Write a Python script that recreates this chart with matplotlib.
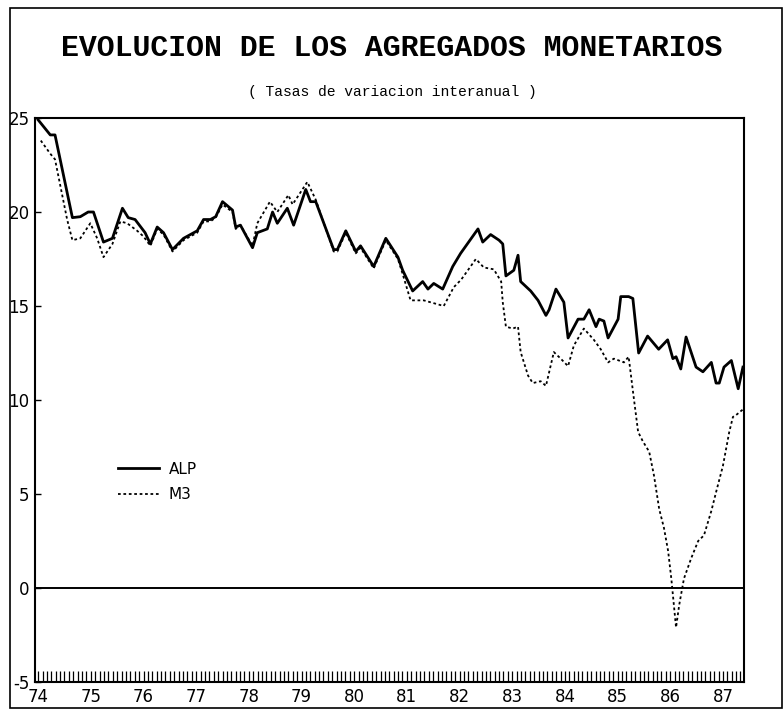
import numpy as np
import matplotlib
matplotlib.use('Agg')
import matplotlib.pyplot as plt
from matplotlib.patches import Rectangle

# fechas en años decimales (74.0 = enero 1974), valores en %
alp_t = [74.00, 74.23, 74.32, 74.65, 74.80, 74.95, 75.05, 75.24, 75.41, 75.60,
         75.71, 75.84, 76.03, 76.13, 76.26, 76.38, 76.55, 76.76, 77.02, 77.14,
         77.27, 77.37, 77.50, 77.69, 77.75, 77.84, 78.07, 78.16, 78.35, 78.45,
         78.54, 78.73, 78.85, 79.08, 79.17, 79.27, 79.61, 79.68, 79.84, 80.03,
         80.12, 80.37, 80.60, 80.83, 80.92, 81.11, 81.30, 81.40, 81.51, 81.68,
         81.87, 82.02, 82.35, 82.44, 82.59, 82.75, 82.82, 82.88, 83.03, 83.11,
         83.16, 83.35, 83.49, 83.64, 83.70, 83.83, 83.98, 84.06, 84.25, 84.36,
         84.46, 84.59, 84.65, 84.74, 84.82, 85.01, 85.06, 85.21, 85.29, 85.40,
         85.57, 85.78, 85.95, 86.05, 86.11, 86.20, 86.30, 86.49, 86.62, 86.78,
         86.87, 86.93, 87.02, 87.16, 87.29, 87.38]
alp = [24.9, 24.1, 24.1, 19.7, 19.75, 20.0, 20.0, 18.4, 18.6, 20.2,
       19.7, 19.6, 18.9, 18.3, 19.2, 18.9, 18.0, 18.6, 19.0, 19.6,
       19.6, 19.75, 20.55, 20.1, 19.2, 19.3, 18.1, 18.9, 19.1, 20.0,
       19.4, 20.2, 19.3, 21.2, 20.55, 20.55, 18.0, 18.0, 19.0, 17.9,
       18.2, 17.1, 18.6, 17.6, 16.9, 15.8, 16.3, 15.9, 16.2, 15.9,
       17.1, 17.8, 19.1, 18.4, 18.8, 18.5, 18.3, 16.6, 16.9, 17.7,
       16.3, 15.8, 15.3, 14.5, 14.8, 15.9, 15.2, 13.3, 14.3, 14.3,
       14.8, 13.9, 14.3, 14.2, 13.3, 14.3, 15.5, 15.5, 15.4, 12.5,
       13.4, 12.7, 13.2, 12.2, 12.3, 11.65, 13.35, 11.75, 11.5, 12.0,
       10.9, 10.9, 11.75, 12.1, 10.6, 11.75]

m3_t = [74.05, 74.23, 74.32, 74.55, 74.65, 74.80, 74.99, 75.12, 75.24, 75.41,
        75.56, 75.69, 75.88, 76.00, 76.13, 76.26, 76.38, 76.55, 76.76, 77.02,
        77.14, 77.27, 77.37, 77.50, 77.69, 77.75, 77.84, 78.07, 78.16, 78.40,
        78.54, 78.75, 78.83, 79.11, 79.27, 79.61, 79.68, 79.84, 80.03, 80.12,
        80.37, 80.60, 80.83, 80.92, 81.07, 81.32, 81.70, 81.89, 82.03, 82.31,
        82.46, 82.65, 82.79, 82.82, 82.88, 83.01, 83.11, 83.16, 83.30, 83.39,
        83.54, 83.64, 83.79, 83.92, 84.06, 84.17, 84.36, 84.55, 84.68, 84.82,
        84.93, 85.12, 85.21, 85.29, 85.39, 85.48, 85.60, 85.69, 85.79, 85.88,
        85.96, 86.02, 86.11, 86.17, 86.26, 86.40, 86.53, 86.64, 86.78, 86.87,
        87.00, 87.12, 87.19, 87.25, 87.38]
m3 = [23.8, 23.1, 22.8, 19.6, 18.5, 18.6, 19.4, 18.6, 17.6, 18.3,
      19.5, 19.4, 19.0, 18.7, 18.2, 19.1, 18.8, 17.9, 18.5, 18.9,
      19.5, 19.5, 19.7, 20.4, 20.0, 19.1, 19.3, 18.2, 19.4, 20.55,
      20.0, 20.9, 20.4, 21.6, 20.65, 17.9, 17.9, 18.9, 17.8, 18.1,
      17.0, 18.5, 17.5, 16.7, 15.3, 15.3, 15.0, 16.0, 16.4, 17.5,
      17.05, 16.95, 16.3, 15.2, 13.9, 13.8, 13.9, 12.55, 11.3, 10.9,
      11.0, 10.75, 12.55, 12.2, 11.8, 12.9, 13.8, 13.2, 12.7, 12.0,
      12.2, 12.0, 12.3, 10.5, 8.3, 7.8, 7.25, 6.0, 4.2, 3.2,
      1.96, 0.5, -2.1, -0.9, 0.5, 1.6, 2.5, 2.8, 4.1, 5.1,
      6.5, 8.3, 9.1, 9.2, 9.5]

years = ['74', '75', '76', '77', '78', '79', '80', '81', '82', '83', '84', '85', '86', '87']
yticks = [-5, 0, 5, 10, 15, 20, 25]

plt.rcParams['font.family'] = ['Liberation Sans Narrow', 'DejaVu Sans']

fig = plt.figure(figsize=(7.84, 7.15), dpi=100)
ax = fig.add_axes([35 / 784, 1 - 682 / 715, 709 / 784, 564 / 715])

ax.plot(alp_t, alp, color='black', lw=2.0, label='ALP')
ax.plot(m3_t, m3, color='black', lw=1.3, linestyle=(0, (1.5, 1.5)), label='M3')
ax.axhline(0, color='black', lw=1.4)

ax.set_xlim(73.94, 87.40)
ax.set_ylim(-5, 25)

year_pos = [74 + i for i in range(len(years))]
ax.set_xticks(year_pos)
ax.set_xticklabels(years, fontsize=12)
ax.set_xticks(np.arange(74, 87.4, 1 / 12), minor=True)
ax.tick_params(axis='x', which='both', direction='in', length=8, width=0.9, pad=4)
ax.set_yticks(yticks)
ax.set_yticklabels([str(v) for v in yticks], fontsize=12)
ax.tick_params(axis='y', direction='in', length=4, width=1, pad=4)

for s in ax.spines.values():
    s.set_linewidth(1.5)

ax.legend(loc='upper left', bbox_to_anchor=(0.098, 0.415), frameon=False,
          fontsize=11, handlelength=2.7, handletextpad=0.6, labelspacing=0.7)

fig.text(0.5, 1 - 48 / 715, 'EVOLUCION DE LOS AGREGADOS MONETARIOS', ha='center', va='center',
         fontsize=21.5, fontweight='bold', family=['Liberation Mono', 'DejaVu Sans Mono'])
fig.text(0.5, 1 - 92 / 715, '( Tasas de variacion interanual )', ha='center', va='center',
         fontsize=10.5, family=['Liberation Mono', 'DejaVu Sans Mono'])

# marco exterior
fig.patches.append(Rectangle((10 / 784, 1 - 708 / 715), 772 / 784, 700 / 715,
                             transform=fig.transFigure, fill=False, lw=1.2, color='black'))

fig.savefig('out.png', dpi=100)
